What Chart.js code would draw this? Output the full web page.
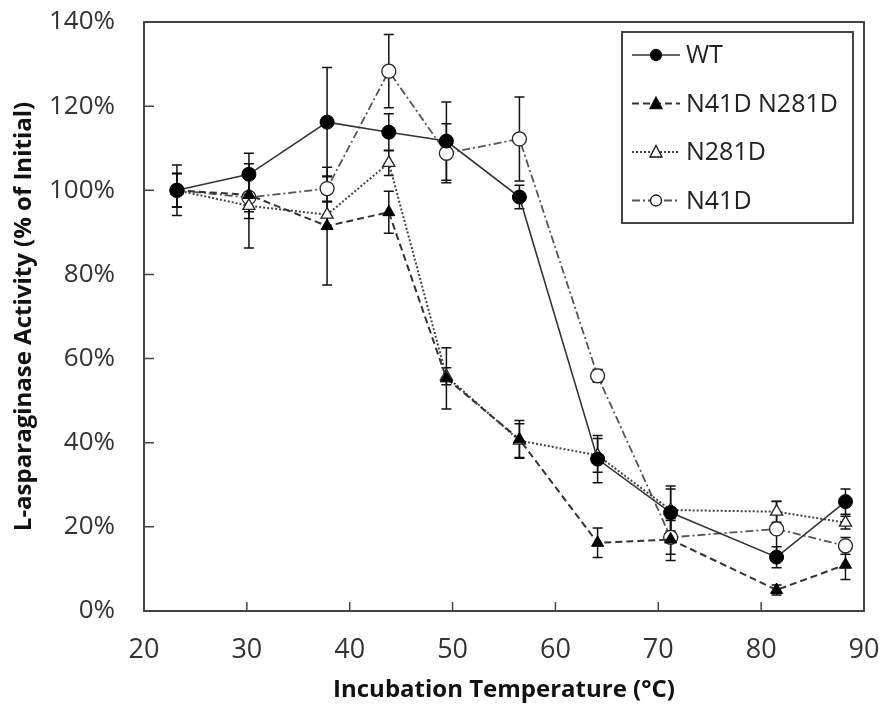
<!DOCTYPE html>
<html>
<head>
<meta charset="utf-8">
<script src="https://cdn.jsdelivr.net/npm/chart.js@4/dist/chart.umd.min.js"></script>
<style>
  html, body { margin: 0; padding: 0; background: #fff; }
  #wrap { width: 886px; height: 711px; position: relative; }
</style>
</head>
<body>
<div id="wrap"><canvas id="chart"></canvas></div>
<script>
// Temperatures (°C)
const temps = [23.2, 30.2, 37.8, 43.8, 49.4, 56.5, 64.1, 71.2, 81.5, 88.2];

// Activity (% of initial) per construct, with error bar half-heights
const wt       = [100, 103.8, 116.2, 113.8, 111.7, 98.4, 36.1, 23.4, 12.8, 26.0];
const wtErr    = [6, 5, 13, 4.4, 9.3, 2.8, 5.6, 6.3, 2.5, 3];
const dbl      = [100, 98.9, 91.5, 94.8, 55.3, 40.8, 16.2, 17.0, 5.0, 11.0];
const dblErr   = [4, 4, 14, 5, 7.3, 4.5, 3.5, 5, 1.2, 3.5];
const n281d    = [100, 96.3, 94.2, 106.5, 55.8, 40.5, 37.0, 24.0, 23.6, 21.0];
const n281dErr = [4, 10, 3, 3, 2, 4, 4, 5, 2.5, 1.5];
const n41d     = [100, 98.3, 100.4, 128.3, 108.8, 112.2, 55.9, 17.5, 19.5, 15.5];
const n41dErr  = [4, 5, 3, 8.7, 7, 10, 1.5, 4, 6.5, 2];

const xTicks = [20, 30, 40, 50, 60, 70, 80, 90];
const yTicks = [0, 20, 40, 60, 80, 100, 120, 140];

const pts = (arr) => arr.map((v, i) => ({ x: temps[i], y: v }));

// error bars drawn under the markers
const errorBars = {
    id: 'errorBars',
    beforeDatasetsDraw(chart) {
        const ctx = chart.ctx;
        const xs = chart.scales.x, ys = chart.scales.y;
        ctx.save();
        ctx.strokeStyle = '#111';
        ctx.lineWidth = 1.5;
        chart.data.datasets.forEach(ds => {
            ds.data.forEach((p, i) => {
                const e = ds.errors[i];
                const px = xs.getPixelForValue(p.x);
                const top = ys.getPixelForValue(p.y + e);
                const bot = ys.getPixelForValue(p.y - e);
                ctx.beginPath();
                ctx.moveTo(px, top); ctx.lineTo(px, bot);
                ctx.moveTo(px - 5, top); ctx.lineTo(px + 5, top);
                ctx.moveTo(px - 5, bot); ctx.lineTo(px + 5, bot);
                ctx.stroke();
            });
        });
        ctx.restore();
    }
};

// box frame + inward tick marks
const frame = {
    id: 'frame',
    afterDraw(chart) {
        const ctx = chart.ctx;
        const a = chart.chartArea;
        const xs = chart.scales.x, ys = chart.scales.y;
        ctx.save();
        ctx.strokeStyle = '#444';
        ctx.lineWidth = 2;
        ctx.strokeRect(a.left, a.top, a.right - a.left, a.bottom - a.top);
        ctx.lineWidth = 1.5;
        ctx.beginPath();
        yTicks.slice(1, -1).forEach(v => {
            const py = ys.getPixelForValue(v);
            ctx.moveTo(a.left, py); ctx.lineTo(a.left + 10, py);
        });
        xTicks.slice(1, -1).forEach(v => {
            const px = xs.getPixelForValue(v);
            ctx.moveTo(px, a.bottom); ctx.lineTo(px, a.bottom - 9);
        });
        ctx.stroke();
        ctx.restore();
    }
};

// legend box in the upper right of the plot
const boxLegend = {
    id: 'boxLegend',
    afterDraw(chart) {
        const ctx = chart.ctx;
        const a = chart.chartArea;
        const left = a.right - 242, top = a.top + 10, w = 231, h = 191;
        ctx.save();
        ctx.fillStyle = '#fff';
        ctx.fillRect(left, top, w, h);
        ctx.strokeStyle = '#444';
        ctx.lineWidth = 2;
        ctx.strokeRect(left, top, w, h);
        chart.data.datasets.forEach((ds, i) => {
            const cy = top + 23 + i * 48.5;
            ctx.save();
            ctx.strokeStyle = ds.borderColor;
            ctx.lineWidth = ds.borderWidth;
            ctx.setLineDash(ds.borderDash || []);
            ctx.beginPath();
            ctx.moveTo(left + 10, cy); ctx.lineTo(left + 58, cy);
            ctx.stroke();
            ctx.restore();
            ctx.save();
            ctx.fillStyle = ds.pointBackgroundColor;
            ctx.strokeStyle = '#111';
            ctx.lineWidth = 1.3;
            ctx.beginPath();
            const mx = left + 34, r = 5.5;
            if (ds.pointStyle === 'circle') {
                ctx.arc(mx, cy, r, 0, Math.PI * 2);
            } else {
                ctx.moveTo(mx, cy - r - 1);
                ctx.lineTo(mx + r + 0.5, cy + r - 0.5);
                ctx.lineTo(mx - r - 0.5, cy + r - 0.5);
                ctx.closePath();
            }
            ctx.fill(); ctx.stroke();
            ctx.restore();
            ctx.fillStyle = '#222';
            ctx.font = '25px "Open Sans"';
            ctx.textBaseline = 'middle';
            ctx.fillText(ds.label, left + 64, cy + 1);
        });
        ctx.restore();
    }
};

const ctx = document.getElementById('chart').getContext('2d');
new Chart(ctx, {
    type: 'line',
    data: {
        datasets: [
            {
                label: 'WT',
                data: pts(wt), errors: wtErr,
                borderColor: '#333', borderWidth: 1.6,
                pointStyle: 'circle', pointRadius: 7,
                pointBackgroundColor: '#000', pointBorderColor: '#000', pointBorderWidth: 1
            },
            {
                label: 'N41D N281D',
                data: pts(dbl), errors: dblErr,
                borderColor: '#333', borderWidth: 2, borderDash: [7, 4],
                pointStyle: 'triangle', pointRadius: 7,
                pointBackgroundColor: '#000', pointBorderColor: '#000', pointBorderWidth: 1
            },
            {
                label: 'N281D',
                data: pts(n281d), errors: n281dErr,
                borderColor: '#444', borderWidth: 2, borderDash: [2, 2],
                pointStyle: 'triangle', pointRadius: 7,
                pointBackgroundColor: '#fff', pointBorderColor: '#222', pointBorderWidth: 1.3
            },
            {
                label: 'N41D',
                data: pts(n41d), errors: n41dErr,
                borderColor: '#555', borderWidth: 1.8, borderDash: [8, 3, 2, 3],
                pointStyle: 'circle', pointRadius: 7,
                pointBackgroundColor: '#fff', pointBorderColor: '#222', pointBorderWidth: 1.3
            }
        ]
    },
    options: {
        responsive: true,
        maintainAspectRatio: false,
        animation: false,
        layout: { padding: { top: 22, right: 22, left: 0, bottom: 0 } },
        plugins: {
            legend: { display: false },
            tooltip: { enabled: false }
        },
        scales: {
            x: {
                type: 'linear',
                min: 20, max: 90,
                afterFit: (s) => { s.height = 100; },
                afterBuildTicks: (s) => { s.ticks = xTicks.map(v => ({ value: v })); },
                // invisible tick marks just push the labels away from the axis
                grid: { display: true, drawOnChartArea: false, drawTicks: true, tickLength: 23, color: 'rgba(0,0,0,0)' },
                border: { display: false },
                ticks: { padding: 0, color: '#333', font: { family: 'Open Sans', size: 27 } },
                title: {
                    display: true,
                    text: 'Incubation Temperature (°C)',
                    color: '#111',
                    padding: { top: 0, bottom: 6 },
                    font: { family: 'Open Sans', size: 24, weight: 'bold' }
                }
            },
            y: {
                min: 0, max: 140,
                afterFit: (s) => { s.width = 144; },
                afterBuildTicks: (s) => { s.ticks = yTicks.map(v => ({ value: v })); },
                grid: { display: true, drawOnChartArea: false, drawTicks: true, tickLength: 29, color: 'rgba(0,0,0,0)' },
                border: { display: false },
                ticks: {
                    padding: 0, color: '#333',
                    font: { family: 'Open Sans', size: 26 },
                    callback: (v) => v + '%'
                },
                title: {
                    display: true,
                    text: 'L-asparaginase Activity (% of Initial)',
                    color: '#111',
                    padding: { top: 10, bottom: 0 },
                    font: { family: 'Open Sans', size: 24, weight: 'bold' }
                }
            }
        }
    },
    plugins: [errorBars, frame, boxLegend]
});
</script>
</body>
</html>
